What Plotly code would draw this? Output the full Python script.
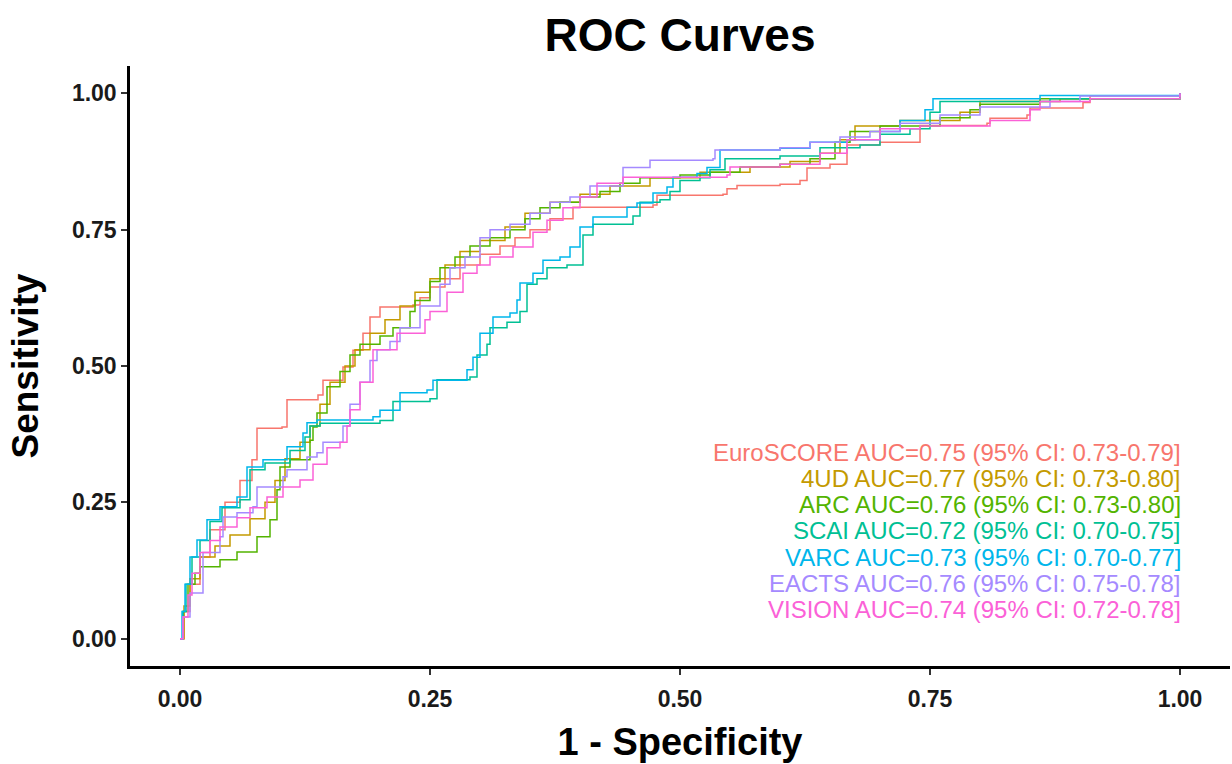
import plotly.graph_objects as go

# ---------------- data ----------------
series_names = ["EuroSCORE", "4UD", "ARC", "SCAI", "VARC", "EACTS", "VISION"]
series_colors = ["#F8766D", "#C49A00", "#53B400", "#00C094", "#00B6EB", "#A58AFF", "#FB61D7"]
auc_labels = [
    "EuroSCORE AUC=0.75 (95% CI: 0.73-0.79]",
    "4UD AUC=0.77 (95% CI: 0.73-0.80]",
    "ARC AUC=0.76 (95% CI: 0.73-0.80]",
    "SCAI AUC=0.72 (95% CI: 0.70-0.75]",
    "VARC AUC=0.73 (95% CI: 0.70-0.77]",
    "EACTS AUC=0.76 (95% CI: 0.75-0.78]",
    "VISION AUC=0.74 (95% CI: 0.72-0.78]",
]

euro_fpr = [0, 0.004, 0.01, 0.02, 0.03, 0.045, 0.06, 0.072, 0.077, 0.102, 0.107, 0.138, 0.143, 0.163, 0.173, 0.183, 0.19, 0.2, 0.233, 0.24, 0.25, 0.265, 0.28, 0.3, 0.32, 0.335, 0.35, 0.37, 0.393, 0.473, 0.477, 0.543, 0.547, 0.557, 0.6, 0.62, 0.627, 0.65, 0.667, 0.7, 0.74, 0.807, 0.81, 0.847, 0.85, 0.903, 0.91, 1.0]
euro_tpr = [0, 0.05, 0.1, 0.15, 0.2, 0.25, 0.29, 0.328, 0.386, 0.388, 0.438, 0.447, 0.474, 0.498, 0.529, 0.56, 0.59, 0.608, 0.612, 0.625, 0.645, 0.66, 0.685, 0.705, 0.72, 0.735, 0.75, 0.77, 0.791, 0.795, 0.813, 0.815, 0.825, 0.831, 0.833, 0.84, 0.863, 0.87, 0.905, 0.91, 0.941, 0.945, 0.954, 0.96, 0.973, 0.983, 0.995, 1.0]

ud4_fpr = [0, 0.004, 0.01, 0.02, 0.035, 0.05, 0.07, 0.085, 0.095, 0.105, 0.12, 0.13, 0.14, 0.15, 0.165, 0.175, 0.19, 0.205, 0.22, 0.235, 0.25, 0.265, 0.28, 0.3, 0.325, 0.345, 0.37, 0.4, 0.43, 0.47, 0.52, 0.57, 0.61, 0.64, 0.66, 0.675, 0.72, 0.78, 0.8, 0.88, 1.0]
ud4_tpr = [0, 0.06, 0.11, 0.15, 0.17, 0.19, 0.22, 0.25, 0.29, 0.33, 0.36, 0.39, 0.43, 0.47, 0.5, 0.53, 0.56, 0.585, 0.61, 0.635, 0.66, 0.685, 0.71, 0.73, 0.755, 0.78, 0.8, 0.815, 0.83, 0.845, 0.855, 0.865, 0.875, 0.89, 0.915, 0.94, 0.95, 0.965, 0.985, 0.99, 1.0]

arc_fpr = [0, 0.003, 0.008, 0.015, 0.02, 0.04, 0.057, 0.077, 0.09, 0.097, 0.1, 0.11, 0.13, 0.133, 0.137, 0.147, 0.16, 0.17, 0.18, 0.2, 0.213, 0.23, 0.235, 0.25, 0.26, 0.275, 0.29, 0.31, 0.33, 0.345, 0.36, 0.38, 0.4, 0.42, 0.44, 0.46, 0.5, 0.53, 0.56, 0.6, 0.63, 0.655, 0.67, 0.7, 0.76, 0.79, 0.8, 0.86, 1.0]
arc_tpr = [0, 0.05, 0.1, 0.12, 0.132, 0.145, 0.159, 0.187, 0.218, 0.273, 0.315, 0.328, 0.364, 0.388, 0.414, 0.462, 0.49, 0.52, 0.54, 0.555, 0.57, 0.6, 0.62, 0.655, 0.68, 0.7, 0.72, 0.735, 0.75, 0.77, 0.79, 0.8, 0.81, 0.82, 0.835, 0.845, 0.85, 0.855, 0.865, 0.87, 0.88, 0.91, 0.93, 0.94, 0.955, 0.97, 0.98, 0.99, 1.0]

scai_fpr = [0, 0.003, 0.006, 0.012, 0.02, 0.03, 0.042, 0.06, 0.07, 0.085, 0.11, 0.125, 0.13, 0.14, 0.2, 0.213, 0.25, 0.257, 0.29, 0.297, 0.307, 0.31, 0.327, 0.34, 0.347, 0.357, 0.367, 0.387, 0.403, 0.413, 0.453, 0.46, 0.48, 0.49, 0.5, 0.52, 0.53, 0.545, 0.6, 0.64, 0.68, 0.7, 0.73, 0.75, 0.76, 0.87, 1.0]
scai_tpr = [0, 0.05, 0.1, 0.15, 0.18, 0.215, 0.24, 0.255, 0.31, 0.322, 0.345, 0.37, 0.39, 0.395, 0.4, 0.435, 0.44, 0.475, 0.48, 0.52, 0.54, 0.57, 0.58, 0.6, 0.65, 0.66, 0.68, 0.685, 0.74, 0.76, 0.775, 0.8, 0.805, 0.82, 0.84, 0.845, 0.86, 0.88, 0.885, 0.9, 0.905, 0.925, 0.935, 0.965, 0.985, 0.99, 1.0]

varc_fpr = [0, 0.002, 0.005, 0.01, 0.017, 0.027, 0.04, 0.057, 0.067, 0.083, 0.107, 0.123, 0.127, 0.137, 0.193, 0.2, 0.22, 0.247, 0.253, 0.287, 0.293, 0.3, 0.313, 0.33, 0.337, 0.34, 0.353, 0.363, 0.38, 0.39, 0.4, 0.413, 0.447, 0.457, 0.473, 0.487, 0.493, 0.517, 0.527, 0.54, 0.6, 0.63, 0.667, 0.7, 0.72, 0.745, 0.753, 0.86, 1.0]
varc_tpr = [0, 0.05, 0.1, 0.15, 0.181, 0.218, 0.242, 0.26, 0.315, 0.328, 0.352, 0.377, 0.396, 0.401, 0.407, 0.419, 0.451, 0.456, 0.474, 0.493, 0.516, 0.56, 0.59, 0.597, 0.621, 0.652, 0.67, 0.694, 0.7, 0.718, 0.755, 0.773, 0.791, 0.799, 0.817, 0.828, 0.846, 0.853, 0.864, 0.896, 0.899, 0.91, 0.915, 0.93, 0.95, 0.97, 0.99, 0.996, 1.0]

eacts_fpr = [0, 0.003, 0.01, 0.023, 0.04, 0.043, 0.057, 0.073, 0.077, 0.093, 0.103, 0.107, 0.127, 0.137, 0.143, 0.163, 0.17, 0.18, 0.19, 0.197, 0.21, 0.22, 0.24, 0.26, 0.27, 0.285, 0.3, 0.31, 0.33, 0.35, 0.37, 0.39, 0.41, 0.443, 0.47, 0.533, 0.535, 0.6, 0.63, 0.66, 0.69, 0.72, 0.76, 0.8, 0.87, 0.9, 1.0]
eacts_tpr = [0, 0.04, 0.084, 0.158, 0.187, 0.223, 0.231, 0.242, 0.278, 0.278, 0.297, 0.31, 0.333, 0.341, 0.36, 0.39, 0.43, 0.47, 0.51, 0.53, 0.545, 0.57, 0.61, 0.65, 0.68, 0.7, 0.735, 0.75, 0.76, 0.78, 0.8, 0.81, 0.83, 0.864, 0.877, 0.88, 0.896, 0.9, 0.91, 0.92, 0.93, 0.945, 0.96, 0.975, 0.985, 0.995, 1.0]

vision_fpr = [0, 0.003, 0.008, 0.012, 0.02, 0.03, 0.04, 0.057, 0.07, 0.087, 0.103, 0.12, 0.133, 0.147, 0.16, 0.167, 0.17, 0.18, 0.193, 0.217, 0.245, 0.25, 0.267, 0.283, 0.297, 0.31, 0.333, 0.353, 0.367, 0.383, 0.4, 0.417, 0.443, 0.547, 0.55, 0.6, 0.64, 0.667, 0.7, 0.74, 0.81, 0.85, 0.86, 0.91, 1.0]
vision_tpr = [0, 0.04, 0.08, 0.12, 0.158, 0.18, 0.205, 0.222, 0.24, 0.26, 0.278, 0.291, 0.32, 0.35, 0.36, 0.39, 0.42, 0.47, 0.53, 0.56, 0.585, 0.6, 0.635, 0.67, 0.685, 0.7, 0.718, 0.745, 0.767, 0.79, 0.81, 0.835, 0.846, 0.85, 0.865, 0.87, 0.89, 0.915, 0.935, 0.94, 0.95, 0.97, 0.985, 0.99, 1.0]

tick_vals = [0, 0.25, 0.5, 0.75, 1.0]
tick_text = ["0.00", "0.25", "0.50", "0.75", "1.00"]

curves = [
    (euro_fpr, euro_tpr), (ud4_fpr, ud4_tpr), (arc_fpr, arc_tpr),
    (scai_fpr, scai_tpr), (varc_fpr, varc_tpr), (eacts_fpr, eacts_tpr),
    (vision_fpr, vision_tpr),
]

# ---------------- figure ----------------
FONT = "Liberation Sans, Arial, sans-serif"
fig = go.Figure()
for name, color, (fx, ty) in zip(series_names, series_colors, curves):
    fig.add_trace(go.Scatter(
        x=fx, y=ty, mode="lines", name=name,
        line=dict(color=color, width=1.5, shape="hv"),
        showlegend=False,
    ))

for i, (txt, color) in enumerate(zip(auc_labels, series_colors)):
    fig.add_annotation(
        x=1.003, y=0.342 - i * 0.0481, xref="x", yref="y",
        text=txt, showarrow=False, xanchor="right", yanchor="middle",
        font=dict(family=FONT, size=24, color=color),
    )

axis_common = dict(
    range=[-0.05, 1.05], tickvals=tick_vals, ticktext=tick_text,
    showgrid=False, zeroline=False,
    showline=True, linecolor="black", linewidth=2.5,
    ticks="outside", ticklen=6, tickwidth=2, tickcolor="#333333",
    tickfont=dict(family=FONT, size=23, color="#1a1a1a", weight="bold"),
)

fig.update_layout(
    width=1232, height=764,
    margin=dict(l=130, r=2, t=66, b=98),
    paper_bgcolor="white", plot_bgcolor="white",
    title=dict(text="<b>ROC Curves</b>", x=(130 + 1230) / 2 / 1232, xanchor="center",
               y=1 - 35 / 764, yanchor="middle",
               font=dict(family=FONT, size=46, color="black")),
    xaxis=dict(**axis_common, ticklabelstandoff=5,
               title=dict(text="<b>1 - Specificity</b>", standoff=18,
                          font=dict(family=FONT, size=38, color="black"))),
    yaxis=dict(**axis_common, ticklabelstandoff=0,
               title=dict(text="<b>Sensitivity</b>", standoff=22,
                          font=dict(family=FONT, size=37, color="black"))),
)

fig.write_html("out.html")
